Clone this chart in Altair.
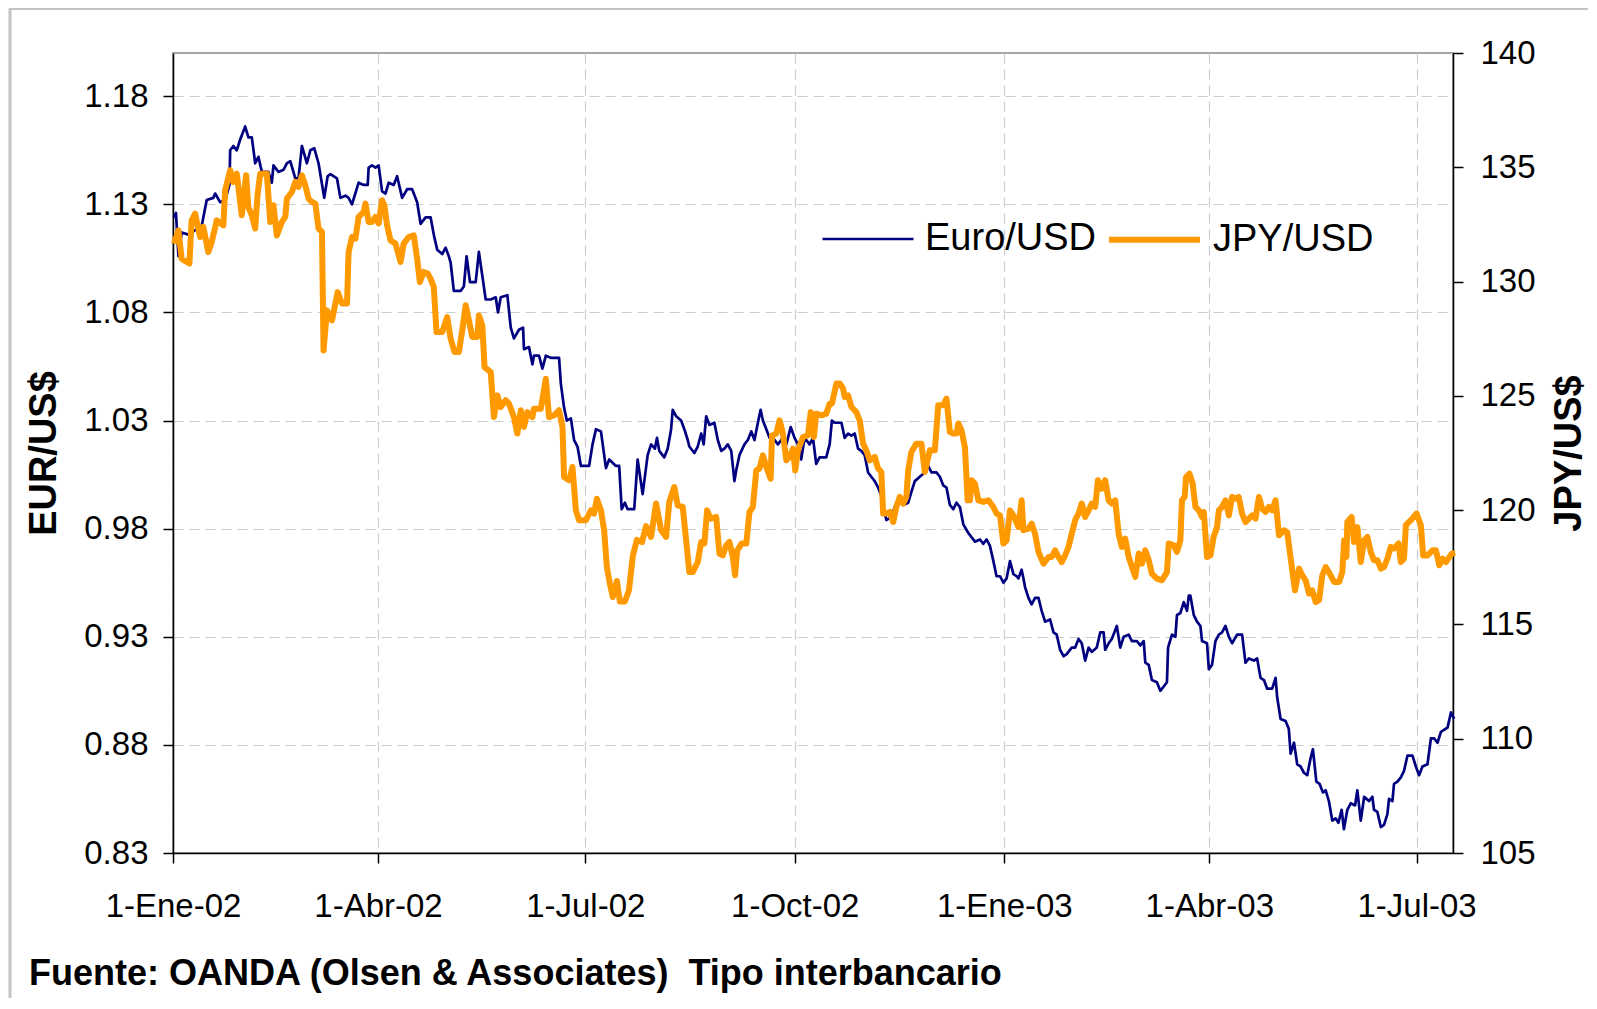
import altair as alt
import pandas as pd

FONT = "Liberation Sans"

# ---- data (days after 1-Jan-2002) ----
eur_days = [0.4, 1.3, 2.4, 3.8, 6.8, 12.6, 14.8, 17.7, 18.5, 20.7, 22.9, 24.8, 25.1, 26.5, 28.0, 29.5, 31.7, 33.1, 34.6, 36.1,
            37.5, 39.0, 41.9, 43.4, 44.1, 46.3, 48.5, 50.0, 51.5, 53.7, 55.1, 56.6, 58.8, 60.3, 62.0, 63.9, 66.4, 67.9,
            69.1, 72.0, 73.5, 75.7, 77.1, 78.6, 81.5, 83.7, 85.5, 85.9, 87.4, 88.9, 90.3, 91.8, 93.3, 94.7, 96.9, 98.4,
            100.6, 102.8, 105.0, 107.2, 108.7, 110.9, 113.1, 114.5, 116.0, 118.2, 119.7, 121.1, 121.9, 123.3, 126.3,
            127.7, 128.9, 130.4, 132.9, 134.3, 137.3,
            139.5, 141.7, 142.7, 143.9, 146.8, 148.3, 149.7, 151.9, 153.7, 154.1, 156.3, 157.8, 158.5, 160.7, 162.2,
            163.7, 165.9, 169.5, 170.3, 171.7, 172.9, 174.7, 176.1, 177.6, 179.1, 182.7, 184.2, 185.7, 187.9, 190.1,
            191.5, 194.5, 195.9, 197.0, 198.4, 199.6, 202.5, 204.0, 206.2, 208.4,
            209.9, 211.6, 212.5, 213.5, 215.7, 217.2, 218.7, 219.4, 220.9, 223.1, 224.5, 226.0, 226.7, 228.9, 230.4,
            231.9, 233.0, 234.1, 235.5, 237.7, 239.2, 240.7, 242.1, 243.6, 245.1, 246.5, 247.3, 248.7, 250.9, 252.4,
            253.9, 255.3, 256.8, 258.0, 259.0, 260.5, 261.9, 263.4, 265.6, 267.8, 269.3, 271.2, 272.9, 274.4, 275.8,
            277.3, 279.5, 281.0,
            282.4, 283.9, 286.8, 288.3, 289.3, 290.5, 293.5, 294.9, 296.4, 297.9, 299.3, 300.8, 302.2, 303.7, 305.2,
            306.6, 308.1, 309.6, 311.0, 313.2, 314.7, 316.2, 317.6, 319.1, 320.6, 322.8, 324.2, 325.7, 327.9, 330.1,
            331.6, 333.0, 335.2, 336.7, 338.2, 339.6, 341.1, 342.6, 344.0, 345.5, 347.0, 349.2,
            352.1, 354.3, 355.8, 357.2, 358.7, 360.2, 361.6, 363.1, 364.6, 366.0, 367.5, 369.0, 370.4, 371.2, 372.6,
            373.4, 374.1, 375.6, 377.0, 378.5, 380.0, 381.4, 382.9, 385.1, 386.6, 388.0, 389.5, 391.0, 392.4, 394.6,
            396.1, 397.6, 399.0, 400.5, 402.0, 403.4, 405.6, 407.1, 408.6, 409.3, 410.8, 412.2, 414.4, 415.9, 417.4,
            419.6, 421.0,
            423.2, 424.7, 426.2, 426.9, 428.4, 429.8, 432.0, 433.5, 435.0, 436.4, 436.9, 438.6, 440.1, 440.8, 442.3,
            443.8, 445.2, 446.0, 446.7, 448.2, 449.6, 451.1, 451.8, 454.0, 454.8, 456.2, 457.7, 459.2, 460.6, 462.1,
            463.6, 465.0, 467.2, 469.4, 470.9, 472.4, 474.6, 476.0, 477.5, 479.0, 480.4, 482.6, 484.1, 484.8, 486.3,
            488.5, 489.9, 490.7, 492.2,
            493.6, 495.1, 496.6, 498.0, 499.5, 500.5, 502.0, 503.4, 504.9, 506.1, 507.5, 509.0, 510.5, 511.7, 513.1,
            514.1, 515.6, 517.1, 519.0, 520.0, 521.5, 523.0, 525.1, 526.6, 527.3, 528.8, 530.3, 531.7, 533.2, 533.9,
            535.4, 536.1, 537.6, 539.1, 540.5, 542.0, 544.2, 545.7, 547.1, 548.6, 550.8, 552.3, 553.7, 555.2, 556.7,
            558.1, 559.6, 561.1, 562.5]
eur_vals = [1.124, 1.126, 1.106, 1.117, 1.116, 1.120, 1.132, 1.133, 1.135, 1.131, 1.132, 1.139, 1.155, 1.157, 1.155,
            1.160, 1.166, 1.161, 1.161, 1.149, 1.152, 1.145, 1.145, 1.140, 1.148, 1.145, 1.146, 1.149, 1.150, 1.142,
            1.142, 1.157, 1.149, 1.155, 1.156, 1.149, 1.133, 1.143,
            1.144, 1.142, 1.133, 1.134, 1.133, 1.130, 1.140, 1.139, 1.139, 1.147, 1.148, 1.147, 1.148, 1.136, 1.135,
            1.140, 1.139, 1.143, 1.133, 1.137, 1.137, 1.131, 1.121, 1.124, 1.124, 1.116, 1.109, 1.107, 1.110, 1.106,
            1.103, 1.090, 1.090, 1.092, 1.106, 1.094, 1.094, 1.108, 1.086,
            1.086, 1.087, 1.080, 1.087, 1.088, 1.073, 1.068, 1.072, 1.073, 1.063, 1.064, 1.056, 1.060, 1.060, 1.054,
            1.060, 1.059, 1.059, 1.047, 1.036, 1.030, 1.031, 1.021, 1.018, 1.009, 1.009, 1.019, 1.026, 1.025, 1.008,
            1.012, 1.009, 1.009, 0.989, 0.992, 0.989, 0.989, 1.012, 0.996, 1.014,
            1.019, 1.017, 1.022, 1.016, 1.013, 1.017, 1.026, 1.035, 1.032, 1.030, 1.026, 1.021, 1.018, 1.015, 1.018,
            1.024, 1.019, 1.032, 1.028, 1.029, 1.021, 1.016, 1.017, 1.019, 1.016, 1.002, 1.007, 1.014, 1.019, 1.021,
            1.025, 1.021, 1.029, 1.035, 1.030, 1.026, 1.022, 1.022, 1.019, 1.022, 1.019, 1.027, 1.022, 1.019, 1.012,
            1.022, 1.019, 1.022,
            1.010, 1.013, 1.013, 1.019, 1.030, 1.029, 1.029, 1.022, 1.024, 1.023, 1.024, 1.017, 1.016, 1.014, 1.006,
            1.004, 1.002, 0.999, 0.995, 0.984, 0.985, 0.988, 0.992, 0.995, 0.991, 0.992, 0.997, 1.002, 1.004, 1.006,
            1.009, 1.006, 1.006, 1.004, 1.000, 0.999, 0.991, 0.989, 0.992, 0.990, 0.982, 0.978,
            0.974, 0.975, 0.973, 0.975, 0.972, 0.965, 0.958, 0.958, 0.955, 0.957, 0.965, 0.959, 0.958, 0.957, 0.961,
            0.957, 0.953, 0.948, 0.945, 0.948, 0.948, 0.942, 0.937, 0.938, 0.932, 0.931, 0.924, 0.921, 0.922, 0.925,
            0.925, 0.929, 0.927, 0.919, 0.925, 0.923, 0.925, 0.932, 0.932, 0.924, 0.927, 0.929, 0.935, 0.925, 0.930,
            0.931, 0.928,
            0.928, 0.926, 0.928, 0.918, 0.917, 0.910, 0.909, 0.905, 0.907, 0.909, 0.925, 0.931, 0.930, 0.940, 0.941,
            0.946, 0.942, 0.949, 0.949, 0.940, 0.937, 0.935, 0.928, 0.927, 0.915, 0.917, 0.928, 0.931, 0.932, 0.935,
            0.930, 0.927, 0.931, 0.931, 0.918, 0.920, 0.919, 0.920, 0.911, 0.910, 0.906, 0.906, 0.911, 0.902, 0.892,
            0.891, 0.8875, 0.876, 0.881,
            0.871, 0.870, 0.867, 0.866, 0.874, 0.878, 0.863, 0.862, 0.858, 0.859, 0.854, 0.845, 0.846, 0.844, 0.850,
            0.841, 0.850, 0.853, 0.852, 0.859, 0.845, 0.856, 0.854, 0.856, 0.850, 0.849, 0.842, 0.843, 0.848, 0.855,
            0.854, 0.862, 0.863, 0.865, 0.868, 0.875, 0.875, 0.870, 0.866, 0.870, 0.871, 0.883, 0.883, 0.881, 0.886,
            0.887, 0.888, 0.895, 0.892]

jpy_days = [0.4, 2.4, 3.8, 5.3, 7.2, 8.2, 9.7, 11.9, 13.3, 15.5, 17.0, 19.2, 22.1, 22.9, 25.1, 26.5, 28.0, 30.2, 32.1,
            33.1, 34.6, 36.1, 37.1, 38.3, 41.2, 42.7, 44.1, 45.6, 47.8, 49.3, 50.0, 52.2, 53.7, 55.1, 56.6, 58.1, 59.5,
            61.0, 62.5, 63.9, 65.4, 66.1, 67.6, 69.8,
            72.3, 74.2, 76.4, 77.1, 78.6, 80.1, 81.5, 83.7, 84.5, 85.9, 87.4, 88.9, 90.3, 91.8, 92.8, 94.0, 95.5, 97.7,
            99.9, 101.3, 103.5, 105.7, 107.2, 108.4, 110.1, 111.9, 113.1, 114.5, 115.7, 118.2, 120.4, 121.9, 123.6,
            125.5, 127.0, 128.5, 129.9, 131.4, 133.6, 134.3, 135.8, 136.8,
            139.5, 140.9, 142.4, 143.9, 146.1, 147.5, 149.7, 151.2, 152.7, 154.1, 155.6, 157.8, 158.5, 161.5, 163.7,
            165.1, 167.3, 169.5, 171.0, 171.7, 173.9, 175.4, 176.9, 178.3, 181.3, 183.5, 184.9, 186.1, 187.9, 189.3,
            190.5, 191.8, 193.1, 194.9, 196.2, 198.4, 200.2, 201.9, 203.7, 205.9, 207.7,
            209.9, 212.1, 214.3, 216.5, 217.9, 220.1, 221.6, 223.8, 225.3, 226.7, 228.2, 230.4, 231.9, 233.3, 234.5,
            236.0, 238.5, 239.9, 241.4, 242.9, 244.3, 245.8, 246.8, 247.7, 249.7, 251.7, 253.1, 254.6, 256.1, 257.5,
            259.0, 260.5, 262.4, 263.0, 264.9, 266.3, 267.8, 269.3, 270.7, 272.2, 273.2, 274.4, 276.6, 278.8, 280.0,
            281.4, 282.4, 284.7, 286.8, 288.3, 289.3, 291.3, 292.7, 294.2, 294.9, 296.4, 297.9, 300.0, 301.5, 303.0,
            304.4, 305.9, 308.1, 309.6, 311.0, 311.8, 313.2, 314.7, 316.2, 317.6, 319.1, 320.6, 322.0, 322.8, 324.2,
            326.4, 328.6, 330.1, 331.6, 332.3, 334.5, 336.0, 338.2, 339.6, 341.1, 342.6, 344.0, 344.8, 346.2, 347.7,
            348.9, 349.9,
            350.6, 352.1, 353.6, 355.8, 358.0, 360.2, 361.6, 363.1, 364.6, 366.0, 367.5, 369.0, 371.2, 372.6, 373.4,
            375.6, 377.0, 378.5, 380.0, 382.2, 384.4, 385.8, 387.3, 388.8, 390.2, 391.7, 393.2, 394.6, 396.1, 397.6,
            399.0, 400.5, 402.0, 403.4, 404.9, 406.1, 407.8, 409.3, 410.8, 412.2, 413.7, 415.2, 416.6, 418.1, 419.6,
            422.5, 424.0, 425.4, 426.9, 428.4, 429.8, 432.0, 434.2, 436.4, 437.2, 439.4, 440.8, 442.3, 443.0, 444.2,
            444.8, 446.3, 447.7, 448.9, 450.4, 451.8, 452.6, 454.0, 455.5, 456.9, 458.4, 459.2, 460.6, 462.1, 463.6,
            465.0, 466.5, 467.9, 469.4, 470.9, 472.4, 473.8, 475.3, 476.8, 478.2, 479.7, 481.2, 482.6, 484.1, 485.6,
            487.8, 489.2,
            492.6, 494.4, 495.8, 497.3, 498.8, 500.2, 501.7, 503.2, 504.6, 506.1, 507.5, 509.8, 512.0, 513.4, 514.2,
            515.2, 515.6, 517.5, 518.5, 520.0, 521.5, 523.0, 524.4, 525.9, 527.3, 528.8, 530.3, 531.7, 533.2, 534.7,
            536.1, 538.1, 539.1, 540.5, 541.3, 543.5, 546.0, 547.9, 548.9, 550.8, 553.0, 554.5, 556.0, 557.4, 558.9,
            560.4, 561.5, 563.0]
jpy_vals = [131.66, 132.24, 131.0, 130.9, 130.79, 132.68, 132.97, 131.95, 132.39, 131.29, 131.73, 132.68, 132.46,
            133.99, 134.87, 134.36, 134.72, 132.9, 134.65, 133.26, 132.9, 132.32, 133.77, 134.72, 134.72, 132.61,
            133.34, 132.02, 132.61, 132.83, 133.63, 133.92, 134.36, 134.14, 134.65, 134.21, 133.63, 133.48, 133.41,
            132.32, 132.17, 126.99, 128.74, 128.3,
            129.54, 129.04, 129.04, 131.29, 131.95, 131.88, 132.83, 133.04, 133.41, 132.61, 132.61, 132.83, 132.54,
            133.56, 133.34, 132.46, 131.80, 131.66, 130.86, 131.66, 131.95, 132.02, 131.0, 129.98, 130.42, 130.35,
            130.13, 129.76, 127.79, 127.79, 128.45, 127.5, 126.92, 126.92, 127.87, 128.96, 128.31, 127.58, 127.58,
            128.52, 128.09, 126.26,
            126.04, 124.07, 125.02, 124.51, 124.81, 124.66, 124.07, 123.35, 124.37, 123.64, 124.29, 124.07, 124.44,
            124.44, 125.75, 124.07, 124.15, 124.37, 123.64, 121.45, 121.31, 121.89, 119.99, 119.56, 119.56, 119.99,
            119.85, 120.5, 119.99, 119.12,
            117.5, 116.8, 116.2, 116.9, 116.0, 116.0, 116.5, 118.0, 118.7, 118.6, 119.3,
            118.83, 120.29, 119.12, 118.83, 120.36, 121.01, 120.21, 120.14, 118.68, 117.29, 117.29, 117.73, 118.61,
            118.54, 119.99, 119.63, 119.70, 118.10, 118.02, 118.46, 118.61, 117.95, 117.15, 118.24, 118.54, 118.54,
            119.92, 120.14, 121.74, 121.82, 122.40, 121.89, 121.38, 123.27, 123.35, 123.93, 123.35, 122.18, 122.33,
            122.69, 121.74, 122.62, 123.20, 123.27, 124.29,
            123.20, 124.22, 124.15, 124.22, 124.66, 124.66, 125.54, 125.54, 125.32, 124.95, 125.02, 124.51, 124.29,
            123.93, 122.91, 122.62, 122.18, 122.33, 121.82, 121.67, 119.85, 119.85, 119.92, 119.48, 120.14, 120.58,
            120.29, 120.58, 121.74, 122.54, 122.91, 122.91, 121.67, 122.33, 122.62, 122.62, 124.59, 124.59, 124.88,
            123.42, 123.35, 123.35, 123.79, 123.49, 122.76, 120.43, 120.43,
            121.31, 121.16, 120.43, 120.36, 120.43, 120.14, 119.85, 119.77, 118.54, 118.68, 119.99, 119.77, 119.26,
            120.43, 119.12, 119.19, 119.41, 118.97, 118.17, 117.66, 117.95, 117.95, 118.24, 117.95, 117.73, 118.02,
            118.39, 118.97, 119.56, 119.85, 120.29, 119.70, 119.99, 120.29, 120.14, 121.31, 120.94, 121.31, 120.43,
            120.29, 120.43, 118.97, 118.39, 118.75, 117.95,
            117.08, 118.10, 117.66, 118.24, 117.81, 117.22, 117.0, 116.93, 117.29, 118.54, 118.46, 118.17, 118.68,
            120.43, 120.58, 121.45, 121.60, 121.16, 120.14, 119.99, 119.70, 119.92, 117.95, 118.02, 118.83, 119.26,
            119.99, 120.14, 120.43, 119.77, 120.58, 120.50, 120.58, 119.85, 119.48, 119.63, 119.77, 119.63, 120.58,
            120.07, 119.92, 120.14, 119.99, 120.43, 118.90, 119.12, 119.04,
            116.49, 117.44, 117.15, 116.93, 116.35, 116.49, 115.98, 116.06, 117.15, 117.51, 117.29, 116.86, 116.86,
            117.29, 118.68, 117.95, 119.48, 119.70, 118.61, 119.26, 117.73, 118.68, 118.83, 118.17, 117.81, 117.81,
            117.44, 117.51, 117.88, 118.39, 118.32, 118.54, 117.73, 117.88, 119.34, 119.56, 119.85, 119.34, 118.02,
            118.02, 118.24, 118.24, 117.59, 117.88, 117.73, 117.95, 118.10, 118.13]

series_names = ["Euro/USD", "JPY/USD"]
series_colors = ["#000080", "#FF9900"]
x_tick_dates = ["2002-01-01", "2002-04-01", "2002-07-01", "2002-10-01", "2003-01-01", "2003-04-01", "2003-07-01"]
x_domain = ["2002-01-01", "2003-07-17"]
eur_ticks = [0.83, 0.88, 0.93, 0.98, 1.03, 1.08, 1.13, 1.18]
jpy_ticks = [105, 110, 115, 120, 125, 130, 135, 140]
month_abbr = ["Ene", "Feb", "Mar", "Abr", "May", "Jun", "Jul", "Ago", "Sep", "Oct", "Nov", "Dic"]
source_text = "Fuente: OANDA (Olsen & Associates)\u00a0 Tipo interbancario"

start = pd.Timestamp("2002-01-01", tz="UTC")


def to_ms(days):
    return [int((start + pd.Timedelta(days=d)).value // 10**6) for d in days]


def date_ms(s):
    return int(pd.Timestamp(s, tz="UTC").value // 10**6)


df = pd.DataFrame({
    "t": to_ms(eur_days) + to_ms(jpy_days),
    "v": eur_vals + jpy_vals,
    "serie": [series_names[0]] * len(eur_vals) + [series_names[1]] * len(jpy_vals),
})
df["idx"] = range(len(df))

months_js = "[" + ",".join("'%s'" % m for m in month_abbr) + "]"
label_expr = "utcdate(datum.value) + '-' + " + months_js + "[utcmonth(datum.value)] + '-' + utcFormat(datum.value, '%y')"

legend = alt.Legend(
    orient="none", legendX=648, legendY=138, direction="horizontal", title=None,
    symbolType="stroke", symbolSize=8281, labelFontSize=38, labelFont=FONT, labelColor="black",
    labelOffset=10, columnPadding=0, padding=0, labelLimit=0,
)

x_enc = alt.X(
    "t:T",
    scale=alt.Scale(type="utc", domain=[date_ms(d) for d in x_domain], nice=False),
    axis=alt.Axis(values=[date_ms(d) for d in x_tick_dates], labelExpr=label_expr, title=None,
                  labelAngle=0, labelFontSize=33, labelPadding=27, tickSize=10, grid=True,
                  labelFlush=False, labelOverlap=False),
)

color_enc = alt.Color("serie:N", scale=alt.Scale(domain=series_names, range=series_colors), legend=legend)
width_enc = alt.StrokeWidth("serie:N", scale=alt.Scale(type="point", padding=0, domain=series_names, range=[2.7, 6]),
                            legend=legend)

base = alt.Chart(df).encode(x=x_enc, color=color_enc, strokeWidth=width_enc, order="idx:Q")

eur_line = base.transform_filter(alt.datum.serie == series_names[0]).mark_line(strokeJoin="round").encode(
    y=alt.Y("v:Q", scale=alt.Scale(domain=[0.83, 1.20], nice=False, zero=False),
            axis=alt.Axis(orient="left", values=eur_ticks, format=".2f", title="EUR/US$", grid=True,
                          labelFontSize=33, labelPadding=15, tickSize=10,
                          titleFontSize=38, titleFontWeight="bold", titleAngle=270, titleX=-148, titleY=400,
                          titleBaseline="top", titleAlign="center"))
)
jpy_line = base.transform_filter(alt.datum.serie == series_names[1]).mark_line(strokeJoin="round").encode(
    y=alt.Y("v:Q", scale=alt.Scale(domain=[105, 140], nice=False, zero=False),
            axis=alt.Axis(orient="right", values=jpy_ticks, format="d", title="JPY/US$", grid=False,
                          labelFontSize=33, labelPadding=17, tickSize=10,
                          titleFontSize=38, titleFontWeight="bold", titleAngle=270, titleX=97, titleY=400,
                          titleBaseline="top", titleAlign="center"))
)

frame = alt.Chart(pd.DataFrame({"f": [0]})).mark_rect(fillOpacity=0, stroke="#c4c4c4", strokeWidth=3).encode(
    x=alt.value(-163), x2=alt.value(1500), y=alt.value(-44.5), y2=alt.value(1000)
)

source = alt.Chart(pd.DataFrame({"label": [source_text]})).mark_text(
    align="left", baseline="alphabetic", fontSize=36, fontWeight="bold", font=FONT, color="black"
).encode(x=alt.value(-144), y=alt.value(932), text="label:N")

chart = alt.layer(frame, eur_line, jpy_line, source).resolve_scale(y="independent").properties(
    width=1280, height=800,
    padding={"left": 165, "top": 45, "right": 135, "bottom": 145},
    autosize=alt.AutoSizeParams(type="none"),
).configure(font=FONT).configure_view(
    stroke="#a6a6a6", strokeWidth=2
).configure_axis(
    labelFont=FONT, titleFont=FONT, labelColor="black", titleColor="black",
    domainColor="black", domainWidth=1.5, tickColor="black", tickWidth=1.5,
    gridColor="#cccccc", gridDash=[10, 6], gridWidth=1.2,
)

chart.save("out.html", embed_options={"renderer": "svg", "actions": False})
